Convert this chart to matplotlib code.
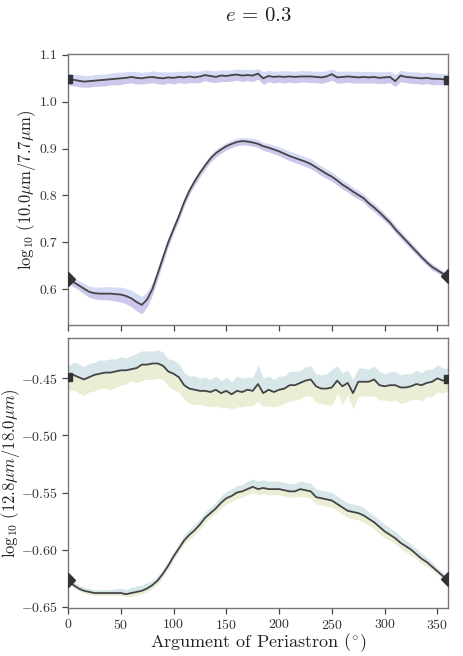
import numpy as np
import matplotlib
matplotlib.use("Agg")
import matplotlib.pyplot as plt

plt.rcParams['font.family'] = 'serif'
plt.rcParams['font.serif'] = ['cmr10', 'DejaVu Serif']
plt.rcParams['mathtext.fontset'] = 'cm'
plt.rcParams['axes.formatter.use_mathtext'] = True
plt.rcParams['axes.unicode_minus'] = True

omega = np.arange(0, 361, 5)

# Top panel: log10(10.0um/7.7um)
top_flat = [1.048, 1.047, 1.045, 1.043, 1.044, 1.045, 1.046, 1.047, 1.048, 1.049,
            1.050, 1.051, 1.053, 1.051, 1.050, 1.052, 1.053, 1.051, 1.050, 1.052,
            1.051, 1.053, 1.052, 1.054, 1.052, 1.054, 1.057, 1.055, 1.053, 1.056,
            1.055, 1.057, 1.058, 1.056, 1.057, 1.056, 1.060, 1.050, 1.055, 1.053,
            1.054, 1.053, 1.054, 1.053, 1.054, 1.054, 1.054, 1.053, 1.052, 1.054,
            1.059, 1.052, 1.053, 1.054, 1.053, 1.052, 1.053, 1.052, 1.053, 1.051,
            1.052, 1.053, 1.044, 1.056, 1.053, 1.052, 1.051, 1.050, 1.051, 1.049,
            1.049, 1.048, 1.047]
top_flat_up = [0.012, 0.012, 0.013, 0.013, 0.012, 0.013, 0.013, 0.012, 0.013, 0.014,
               0.013, 0.013, 0.012, 0.013, 0.013, 0.012, 0.013, 0.013, 0.014, 0.012,
               0.013, 0.012, 0.013, 0.012, 0.013, 0.012, 0.011, 0.012, 0.013, 0.012,
               0.012, 0.011, 0.012, 0.013, 0.012, 0.012, 0.011, 0.014, 0.012, 0.012,
               0.012, 0.013, 0.012, 0.012, 0.013, 0.012, 0.012, 0.012, 0.013, 0.012,
               0.011, 0.013, 0.012, 0.012, 0.012, 0.013, 0.012, 0.012, 0.012, 0.013,
               0.012, 0.012, 0.014, 0.011, 0.012, 0.012, 0.013, 0.012, 0.012, 0.013,
               0.012, 0.012, 0.012]
top_flat_lo = [0.012, 0.013, 0.013, 0.012, 0.013, 0.012, 0.013, 0.013, 0.012, 0.013,
               0.013, 0.012, 0.013, 0.013, 0.012, 0.013, 0.012, 0.013, 0.013, 0.012,
               0.013, 0.012, 0.013, 0.013, 0.012, 0.013, 0.012, 0.013, 0.012, 0.013,
               0.012, 0.013, 0.012, 0.013, 0.012, 0.013, 0.012, 0.013, 0.012, 0.013,
               0.012, 0.013, 0.012, 0.013, 0.012, 0.012, 0.013, 0.012, 0.013, 0.012,
               0.013, 0.012, 0.013, 0.012, 0.013, 0.012, 0.013, 0.012, 0.013, 0.012,
               0.013, 0.012, 0.012, 0.013, 0.012, 0.013, 0.012, 0.013, 0.012, 0.013,
               0.012, 0.012, 0.012]

top_curve = [0.621, 0.615, 0.608, 0.601, 0.594, 0.591, 0.590, 0.590, 0.590, 0.589,
             0.588, 0.585, 0.580, 0.572, 0.566, 0.578, 0.600, 0.633, 0.667, 0.700,
             0.728, 0.755, 0.785, 0.810, 0.830, 0.848, 0.864, 0.879, 0.890, 0.898,
             0.905, 0.910, 0.914, 0.916, 0.915, 0.913, 0.910, 0.905, 0.902, 0.898,
             0.894, 0.889, 0.884, 0.880, 0.876, 0.872, 0.867, 0.860, 0.853, 0.846,
             0.840, 0.832, 0.823, 0.816, 0.808, 0.801, 0.794, 0.783, 0.774, 0.764,
             0.753, 0.742, 0.728, 0.716, 0.704, 0.692, 0.680, 0.668, 0.657, 0.647,
             0.640, 0.633, 0.627]
top_curve_up = [0.009, 0.009, 0.010, 0.011, 0.012, 0.013, 0.014, 0.015, 0.015, 0.015,
                0.016, 0.016, 0.017, 0.018, 0.018, 0.016, 0.014, 0.012, 0.011, 0.010,
                0.010, 0.009, 0.009, 0.008, 0.008, 0.008, 0.008, 0.008, 0.008, 0.008,
                0.008, 0.008, 0.008, 0.008, 0.008, 0.009, 0.009, 0.008, 0.009, 0.009,
                0.010, 0.010, 0.010, 0.011, 0.010, 0.010, 0.011, 0.010, 0.010, 0.010,
                0.010, 0.009, 0.010, 0.010, 0.009, 0.010, 0.009, 0.009, 0.009, 0.009,
                0.009, 0.008, 0.009, 0.008, 0.008, 0.008, 0.008, 0.007, 0.007, 0.007,
                0.007, 0.006, 0.006]
top_curve_lo = [0.009, 0.010, 0.010, 0.011, 0.012, 0.012, 0.013, 0.013, 0.014, 0.015,
                0.016, 0.017, 0.018, 0.019, 0.019, 0.016, 0.013, 0.012, 0.011, 0.010,
                0.009, 0.009, 0.008, 0.008, 0.008, 0.008, 0.008, 0.008, 0.008, 0.008,
                0.008, 0.008, 0.008, 0.008, 0.008, 0.008, 0.008, 0.009, 0.009, 0.009,
                0.009, 0.010, 0.010, 0.010, 0.010, 0.010, 0.010, 0.010, 0.011, 0.010,
                0.010, 0.010, 0.010, 0.009, 0.010, 0.009, 0.009, 0.009, 0.009, 0.009,
                0.008, 0.008, 0.008, 0.008, 0.008, 0.008, 0.007, 0.007, 0.007, 0.007,
                0.006, 0.006, 0.006]

# Bottom panel: log10(12.8um/18.0um)
bot_flat = [-0.449, -0.447, -0.449, -0.451, -0.449, -0.447, -0.446, -0.445, -0.445, -0.444,
            -0.443, -0.443, -0.442, -0.441, -0.438, -0.438, -0.437, -0.437, -0.439, -0.444,
            -0.446, -0.449, -0.456, -0.459, -0.460, -0.461, -0.461, -0.462, -0.460, -0.463,
            -0.461, -0.464, -0.461, -0.462, -0.460, -0.461, -0.455, -0.463, -0.460, -0.462,
            -0.460, -0.459, -0.456, -0.456, -0.454, -0.452, -0.451, -0.457, -0.459, -0.459,
            -0.458, -0.452, -0.457, -0.454, -0.463, -0.453, -0.453, -0.453, -0.451, -0.456,
            -0.457, -0.456, -0.456, -0.458, -0.458, -0.457, -0.455, -0.456, -0.454, -0.453,
            -0.450, -0.452, -0.451]
bot_flat_up = [0.010, 0.011, 0.012, 0.011, 0.012, 0.011, 0.012, 0.011, 0.012, 0.011,
               0.012, 0.011, 0.012, 0.013, 0.012, 0.012, 0.011, 0.012, 0.012, 0.011,
               0.012, 0.012, 0.011, 0.011, 0.012, 0.011, 0.012, 0.011, 0.012, 0.011,
               0.012, 0.011, 0.013, 0.012, 0.011, 0.012, 0.017, 0.013, 0.012, 0.011,
               0.012, 0.011, 0.012, 0.012, 0.011, 0.012, 0.012, 0.011, 0.012, 0.013,
               0.016, 0.013, 0.012, 0.011, 0.012, 0.012, 0.012, 0.011, 0.012, 0.012,
               0.011, 0.012, 0.012, 0.011, 0.012, 0.011, 0.012, 0.011, 0.012, 0.011,
               0.012, 0.011, 0.010]
bot_flat_lo = [0.012, 0.013, 0.014, 0.014, 0.013, 0.014, 0.013, 0.014, 0.015, 0.014,
               0.013, 0.012, 0.010, 0.013, 0.014, 0.013, 0.014, 0.013, 0.012, 0.013,
               0.014, 0.013, 0.012, 0.013, 0.013, 0.012, 0.013, 0.013, 0.014, 0.013,
               0.014, 0.013, 0.014, 0.013, 0.014, 0.013, 0.015, 0.012, 0.014, 0.013,
               0.014, 0.013, 0.014, 0.013, 0.014, 0.013, 0.015, 0.014, 0.013, 0.014,
               0.016, 0.011, 0.016, 0.010, 0.014, 0.013, 0.012, 0.013, 0.014, 0.013,
               0.012, 0.014, 0.013, 0.014, 0.013, 0.012, 0.013, 0.014, 0.012, 0.013,
               0.012, 0.011, 0.010]

bot_curve = [-0.627, -0.631, -0.634, -0.636, -0.637, -0.638, -0.638, -0.638, -0.638, -0.638,
             -0.638, -0.639, -0.638, -0.637, -0.636, -0.634, -0.631, -0.627, -0.621, -0.614,
             -0.606, -0.599, -0.592, -0.587, -0.583, -0.578, -0.572, -0.568, -0.564, -0.559,
             -0.555, -0.553, -0.550, -0.549, -0.547, -0.545, -0.547, -0.546, -0.547, -0.547,
             -0.547, -0.548, -0.549, -0.549, -0.547, -0.548, -0.549, -0.554, -0.555, -0.556,
             -0.557, -0.560, -0.563, -0.566, -0.567, -0.568, -0.570, -0.573, -0.576, -0.580,
             -0.584, -0.587, -0.590, -0.594, -0.597, -0.600, -0.604, -0.608, -0.611, -0.615,
             -0.619, -0.623, -0.626]
bot_curve_up = [0.002, 0.003, 0.003, 0.003, 0.003, 0.003, 0.003, 0.003, 0.003, 0.004,
                0.004, 0.004, 0.005, 0.005, 0.005, 0.005, 0.004, 0.004, 0.004, 0.004,
                0.004, 0.004, 0.005, 0.005, 0.005, 0.005, 0.005, 0.005, 0.005, 0.006,
                0.006, 0.006, 0.006, 0.006, 0.007, 0.007, 0.007, 0.007, 0.007, 0.007,
                0.007, 0.007, 0.007, 0.007, 0.007, 0.007, 0.007, 0.007, 0.007, 0.007,
                0.007, 0.007, 0.007, 0.007, 0.007, 0.007, 0.007, 0.006, 0.006, 0.006,
                0.006, 0.006, 0.006, 0.006, 0.005, 0.005, 0.005, 0.005, 0.004, 0.004,
                0.003, 0.003, 0.002]
bot_curve_lo = [0.002, 0.002, 0.002, 0.002, 0.002, 0.002, 0.002, 0.002, 0.002, 0.002,
                0.002, 0.002, 0.003, 0.003, 0.003, 0.003, 0.003, 0.003, 0.003, 0.003,
                0.003, 0.003, 0.003, 0.004, 0.004, 0.004, 0.004, 0.004, 0.004, 0.005,
                0.005, 0.005, 0.005, 0.005, 0.005, 0.005, 0.005, 0.005, 0.005, 0.005,
                0.005, 0.005, 0.005, 0.005, 0.006, 0.006, 0.006, 0.006, 0.006, 0.006,
                0.006, 0.006, 0.006, 0.006, 0.006, 0.006, 0.006, 0.006, 0.006, 0.006,
                0.006, 0.005, 0.005, 0.005, 0.005, 0.005, 0.004, 0.004, 0.004, 0.003,
                0.003, 0.003, 0.002]

title = r'$e\,=\,0.3$'
top_ylabel = r'$\log_{10}\,(10.0\mu{\rm m}/7.7\mu{\rm m})$'
bot_ylabel = r'$\log_{10}\,(12.8\mu m/18.0\mu m)$'
xlabel = r'Argument of Periastron ($^{\circ}$)'
top_yticks = [0.6, 0.7, 0.8, 0.9, 1.0, 1.1]
bot_yticks = [-0.65, -0.60, -0.55, -0.50, -0.45]
xticks = [0, 50, 100, 150, 200, 250, 300, 350]

W, H = 463, 656
fig = plt.figure(figsize=(W / 100, H / 100), dpi=100)
ax1 = fig.add_axes([68 / W, 1 - 325 / H, 380 / W, 271 / H])
ax2 = fig.add_axes([68 / W, 1 - 608 / H, 380 / W, 270 / H])

line_color = '#444444'
mark_color = '#333333'
spine_color = '#777777'


def draw(ax, y, up, lo, c_up, c_lo, marker):
    y = np.asarray(y)
    up = np.asarray(up)
    lo = np.asarray(lo)
    ax.fill_between(omega, y, y + up, color=c_up, lw=0, zorder=1)
    ax.fill_between(omega, y - lo, y, color=c_lo, lw=0, zorder=1)
    ax.plot(omega, y, color=line_color, lw=1.3, zorder=3)
    ax.plot(omega[[0, -1]], y[[0, -1]], ls='none', marker=marker,
            color=mark_color, ms=6 if marker == 's' else 7, zorder=4)


draw(ax1, top_flat, top_flat_up, top_flat_lo, '#d5daf5', '#cec7ec', 's')
draw(ax1, top_curve, top_curve_up, top_curve_lo, '#d5daf5', '#cec7ec', 'D')
draw(ax2, bot_flat, bot_flat_up, bot_flat_lo, '#d7e7e9', '#eaeed5', 's')
draw(ax2, bot_curve, bot_curve_up, bot_curve_lo, '#d7e7e9', '#eaeed5', 'D')

for ax in (ax1, ax2):
    ax.set_xlim(0, 360)
    ax.set_xticks(xticks)
    for s in ax.spines.values():
        s.set_color(spine_color)
        s.set_linewidth(1.0)
    ax.tick_params(direction='out', length=4, width=0.9, color='#444444',
                   labelsize=10, labelcolor='#333333', top=False, right=False)

ax1.set_ylim(0.523, 1.102)
ax1.set_yticks(top_yticks)
ax1.set_yticklabels(['%.1f' % v for v in top_yticks])
ax1.set_xticklabels([])
ax1.set_ylabel(top_ylabel, fontsize=12, color='#222222')
ax1.yaxis.set_label_coords(-0.079, 0.5)
ax1.set_title(title, fontsize=15, pad=24, color='#222222')

ax2.set_ylim(-0.6511, -0.4147)
ax2.set_yticks(bot_yticks)
ax2.set_yticklabels(['$%.2f$' % v for v in bot_yticks])
ax2.set_xticklabels(['$%d$' % v for v in xticks])
ax2.set_ylabel(bot_ylabel, fontsize=12, color='#222222')
ax2.yaxis.set_label_coords(-0.121, 0.5)
ax2.set_xlabel(xlabel, fontsize=13, color='#222222', labelpad=-1)

fig.savefig('out.png', dpi=100)
